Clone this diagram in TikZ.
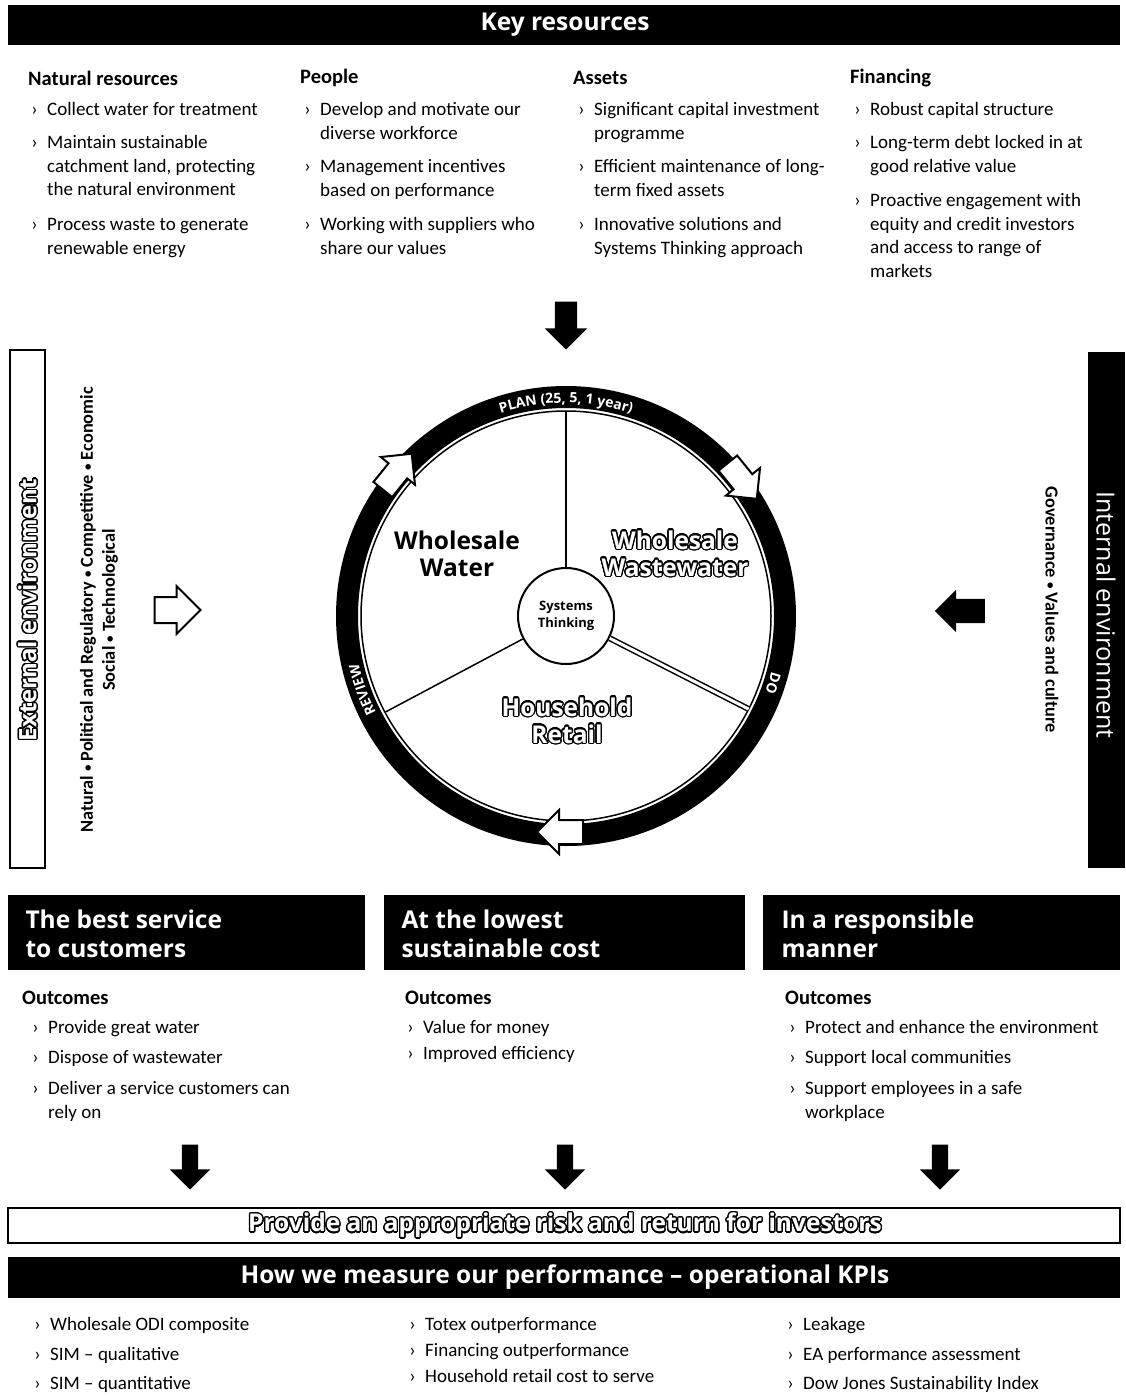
\documentclass[tikz,border=0pt]{standalone}
\usepackage{fontspec}
\setmainfont{Carlito}
\newfontfamily\headfont{Open Sans}
\usepackage{contour}
\contourlength{1.3pt}
\contournumber{24}
\usetikzlibrary{shapes.arrows,decorations.text,positioning}

\tikzset{
  blackbar/.style={fill=black},
  bartext/.style={text=white, font=\headfont\bfseries\fontsize{24.5}{29}\selectfont},
  colhead/.style={anchor=west, inner sep=0, font=\bfseries\fontsize{20.5}{24}\selectfont},
  itemtext/.style={anchor=north west, align=left, inner sep=0, font=\fontsize{19}{23.5}\selectfont},
  itembul/.style={anchor=north east, inner sep=0, font=\fontsize{19}{23.5}\selectfont},
  fatarrow/.style={single arrow, fill=black, inner xsep=0, inner ysep=8pt, single arrow head extend=12pt, minimum width=40pt, minimum height=45pt},
  hollowarrow/.style={single arrow, draw=black, fill=white, line width=2pt, inner xsep=0, inner ysep=12pt, single arrow head extend=11pt, minimum width=46pt, minimum height=46pt},
  wheellabel/.style={align=center, font=\headfont\bfseries\fontsize{24.5}{27}\selectfont},
  ringtext/.style={decorate, decoration={text along path, text align=center, text color=white, text={|\headfont\bfseries\fontsize{14}{16}\selectfont|#1}}},
}

% bullet item: name, x of text, y of first line, text
\newcommand\kitem[4]{%
  \node[itemtext] (#1) at (#2,{12-#3}) {\strut #4};
  \node[itembul] at ([xshift=-9pt]#1.north west) {\strut ›};}
\newcommand\sepdot{\raisebox{1pt}{\fontsize{13}{13}\selectfont •}}

\begin{document}
\begin{tikzpicture}[x=1pt,y=1pt]
\useasboundingbox (0,0) rectangle (1125,-1398);

% key resources
\fill[blackbar] (8,-5) rectangle (1120,-45);
\node[bartext] (keyres) at (565,-25) {Key resources};

\node[colhead] (natres) at (28,-78) {Natural resources};
\node[colhead] (people) at (300,-78) {People};
\node[colhead] (assets) at (573,-78) {Assets};
\node[colhead] (finance) at (850,-78) {Financing};

\kitem{nat1}{47}{111}{Collect water for treatment}
\kitem{nat2}{47}{144}{Maintain sustainable\\catchment land, protecting\\the natural environment}
\kitem{nat3}{47}{226}{Process waste to generate\\renewable energy}
\kitem{peo1}{320}{111}{Develop and motivate our\\diverse workforce}
\kitem{peo2}{320}{168}{Management incentives\\based on performance}
\kitem{peo3}{320}{226}{Working with suppliers who\\share our values}
\kitem{ass1}{594}{111}{Significant capital investment\\programme}
\kitem{ass2}{594}{168}{Efficient maintenance of long-\\term fixed assets}
\kitem{ass3}{594}{226}{Innovative solutions and\\Systems Thinking approach}
\kitem{fin1}{870}{111}{Robust capital structure}
\kitem{fin2}{870}{144}{Long-term debt locked in at\\good relative value}
\kitem{fin3}{870}{202}{Proactive engagement with\\equity and credit investors\\and access to range of\\markets}

\node[fatarrow, rotate=-90, inner ysep=11pt, single arrow head extend=10pt, minimum width=42pt, minimum height=48pt] (resarrow) at (566,-320) {};

% external environment
\draw[line width=1.5pt] (10,-350) rectangle (45,-868);
\node[rotate=90, text=white, font=\headfont\bfseries\fontsize{24}{28}\selectfont] (extenv) at (28,-610) {\contour{black}{External environment}};
\node[rotate=90, align=center, font=\bfseries\fontsize{18.3}{22}\selectfont] (extlist) at (99,-610) {Natural \sepdot{} Political and Regulatory \sepdot{} Competitive \sepdot{} Economic\\Social \sepdot{} Technological};
\node[hollowarrow] (extarrow) at (171,-610) {};

% internal environment
\fill[blackbar] (1088,-352) rectangle (1125,-868);
\node[rotate=-90, text=white, font=\headfont\fontsize{25}{28}\selectfont] (intenv) at (1106,-615) {Internal environment};
\node[rotate=-90, font=\bfseries\fontsize{18.3}{22}\selectfont] (intlist) at (1052,-610) {Governance \sepdot{} Values and culture};
\node[fatarrow, rotate=180, inner ysep=12pt, single arrow head extend=9pt, minimum width=42pt, minimum height=50pt] (intarrow) at (966,-611) {};

% the wheel
\coordinate (hub) at (566,-616);
\draw[line width=22pt] (hub) circle (219);
\draw[line width=1.5pt] (hub) circle (205);
\path[ringtext={PLAN (25, 5, 1 year)}] ([shift={(128:213)}]hub) arc[start angle=128, end angle=52, radius=213];
\path[ringtext={DO}] ([shift={(-5:213)}]hub) arc[start angle=-5, end angle=-31, radius=213];
\path[ringtext={REVIEW}] ([shift={(215:213)}]hub) arc[start angle=215, end angle=185, radius=213];

\node[circle, draw, fill=white, line width=2pt, minimum size=96pt, inner sep=0, align=center,
  font=\headfont\bfseries\fontsize{13}{17}\selectfont] (systems) at (hub) {Systems\\Thinking};
\coordinate (spokeN) at ([shift={(90:205)}]hub);
\coordinate (spokeE) at ([shift={(-27:205)}]hub);
\coordinate (spokeW) at ([shift={(208:205)}]hub);
\draw[line width=1.5pt] (systems.90) -- (spokeN);
\draw[line width=1.5pt, double, double distance=3pt] (systems.-27) -- (spokeE);
\draw[line width=1.5pt] (systems.208) -- (spokeW);

\node[hollowarrow, rotate=51, inner ysep=11pt, single arrow head extend=10pt, minimum width=42pt, minimum height=46pt] (planarrow) at ([shift={(141:222)}]hub) {};
\node[hollowarrow, rotate=-51, inner ysep=11pt, single arrow head extend=10pt, minimum width=42pt, minimum height=46pt] (doarrow) at ([shift={(39:222)}]hub) {};
\node[hollowarrow, rotate=180, inner ysep=11pt, single arrow head extend=10pt, minimum width=42pt, minimum height=46pt] (reviewarrow) at ([shift={(-90:216)}]hub) {};

\node[wheellabel] (wwater) at (457,-554) {Wholesale\\Water};
\node[wheellabel, text=white] (wwaste) at (675,-554) {\contour{black}{Wholesale}\\\contour{black}{Wastewater}};
\node[wheellabel, text=white] (retail) at (567,-721) {\contour{black}{Household}\\\contour{black}{Retail}};

% three aims
\fill[blackbar] (8,-895) rectangle (365,-970);
\fill[blackbar] (384,-895) rectangle (745,-970);
\fill[blackbar] (763,-895) rectangle (1120,-970);
\node[bartext, anchor=west, align=left] (aimservice) at (22,-934) {The best service\\to customers};
\node[bartext, anchor=west, align=left] (aimcost) at (398,-934) {At the lowest\\sustainable cost};
\node[bartext, anchor=west, align=left] (aimmanner) at (778,-934) {In a responsible\\manner};

\node[colhead] (outc1) at (22,-998) {Outcomes};
\node[colhead] (outc2) at (405,-998) {Outcomes};
\node[colhead] (outc3) at (785,-998) {Outcomes};

\kitem{out1}{48}{1029}{Provide great water}
\kitem{out2}{48}{1059}{Dispose of wastewater}
\kitem{out3}{48}{1090}{Deliver a service customers can\\rely on}
\kitem{out4}{423}{1029}{Value for money}
\kitem{out5}{423}{1055}{Improved efficiency}
\kitem{out6}{805}{1029}{Protect and enhance the environment}
\kitem{out7}{805}{1059}{Support local communities}
\kitem{out8}{805}{1090}{Support employees in a safe\\workplace}

\node[fatarrow, rotate=-90] (arrservice) at (190,-1163) {};
\node[fatarrow, rotate=-90] (arrcost) at (565,-1163) {};
\node[fatarrow, rotate=-90] (arrmanner) at (940,-1163) {};

% investors and KPIs
\draw[line width=2pt] (8,-1208) rectangle (1120,-1243);
\node[text=white, font=\headfont\bfseries\fontsize{24.5}{28}\selectfont] (investors) at (565,-1226) {\contour{black}{Provide an appropriate risk and return for investors}};

\fill[blackbar] (8,-1257) rectangle (1120,-1298);
\node[bartext] (kpis) at (565,-1277) {How we measure our performance – operational KPIs};

\kitem{kpi1}{50}{1326}{Wholesale ODI composite}
\kitem{kpi2}{50}{1356}{SIM – qualitative}
\kitem{kpi3}{50}{1385}{SIM – quantitative}
\kitem{kpi4}{425}{1326}{Totex outperformance}
\kitem{kpi5}{425}{1352}{Financing outperformance}
\kitem{kpi6}{425}{1378}{Household retail cost to serve}
\kitem{kpi7}{803}{1326}{Leakage}
\kitem{kpi8}{803}{1356}{EA performance assessment}
\kitem{kpi9}{803}{1385}{Dow Jones Sustainability Index}
\end{tikzpicture}
\end{document}
